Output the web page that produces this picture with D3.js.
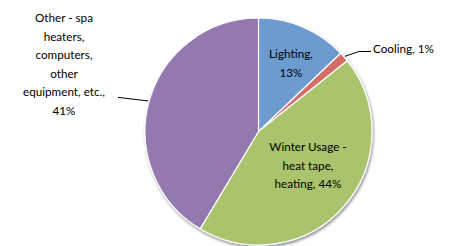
<!DOCTYPE html>
<html>
<head>
<meta charset="utf-8">
<script src="https://cdn.jsdelivr.net/npm/d3@7"></script>
<style>
  body { margin: 0; background: #fff; }
  svg { display: block; }
  text { font-family: Lato, "Open Sans", sans-serif; font-size: 11.7px; fill: #000; }
</style>
</head>
<body>
<div id="container"></div>
<script>
// slices, clockwise from 12 o'clock
const categories = ['Lighting', 'Cooling', 'Winter Usage - heat tape, heating', 'Other - spa heaters, computers, other equipment, etc.'];
const values = [12.9, 1.4, 44.3, 41.4];
const labelLines = [
	['Lighting,', '13%'],
	['Cooling, 1%'],
	['Winter Usage -', 'heat tape,', 'heating, 44%'],
	['Other - spa', 'heaters,', 'computers,', 'other', 'equipment, etc.,', '41%'],
];
const colors = ['#6c9bcf', '#d46c68', '#a9c46c', '#9479b1'];

const width = 449, height = 246;
const cx = 258.5, cy = 131.5, r = 113.5;

// label placement (offsets from the pie centre); leader lines for the outside ones
const labelPos = [
	{ x: 32.5, y: -73.5, anchor: 'middle' },
	{ x: 114.5, y: -79, anchor: 'start', leader: true },
	{ x: 49.5, y: 19.5, anchor: 'middle' },
	{ x: -194.5, y: -109.5, anchor: 'middle', leader: true, row: 4 },
];
const lineH = 18.6;

const svg = d3.select('#container').append('svg')
	.attr('width', width)
	.attr('height', height);

const defs = svg.append('defs');
const shadow = defs.append('filter').attr('id', 'shadow')
	.attr('x', '-10%').attr('y', '-10%').attr('width', '120%').attr('height', '120%');
shadow.append('feGaussianBlur').attr('in', 'SourceAlpha').attr('stdDeviation', 1.5);
shadow.append('feOffset').attr('dx', 1).attr('dy', 1.5).attr('result', 'blur');
shadow.append('feComponentTransfer').append('feFuncA').attr('type', 'linear').attr('slope', 0.45);
const merge = shadow.append('feMerge');
merge.append('feMergeNode');
merge.append('feMergeNode').attr('in', 'SourceGraphic');

const pie = d3.pie().sort(null).value(d => d);
const arcs = pie(values);
const arc = d3.arc().innerRadius(0).outerRadius(r);

const g = svg.append('g').attr('transform', `translate(${cx},${cy})`);

g.append('g').attr('filter', 'url(#shadow)')
	.selectAll('path')
	.data(arcs)
	.enter()
	.append('path')
	.attr('d', arc)
	.attr('fill', (d, i) => colors[i])
	.attr('stroke', '#fff')
	.attr('stroke-width', 1.2)
	.attr('stroke-linejoin', 'round');

// leader lines
const edgeArc = d3.arc().innerRadius(r + 1).outerRadius(r + 1);
arcs.forEach((a, i) => {
	const p = labelPos[i];
	if (!p.leader) return;
	const [ex, ey] = edgeArc.centroid(a);
	let pts;
	if (p.anchor === 'start') {
		pts = [[ex, ey], [p.x - 14, p.y - 1], [p.x - 2, p.y - 1]];
	} else {
		pts = [[ex, ey], [p.x + 54, p.y + p.row * lineH + 1]];
	}
	g.append('path')
		.attr('d', d3.line()(pts))
		.attr('fill', 'none')
		.attr('stroke', '#000')
		.attr('stroke-width', 1);
});

// labels
arcs.forEach((a, i) => {
	const p = labelPos[i];
	const t = g.append('text')
		.attr('text-anchor', p.anchor)
		.attr('x', p.x)
		.attr('y', p.y);
	labelLines[i].forEach((line, j) => {
		t.append('tspan')
			.attr('x', p.x)
			.attr('y', p.y + j * lineH)
			.text(line);
	});
});
</script>
</body>
</html>
